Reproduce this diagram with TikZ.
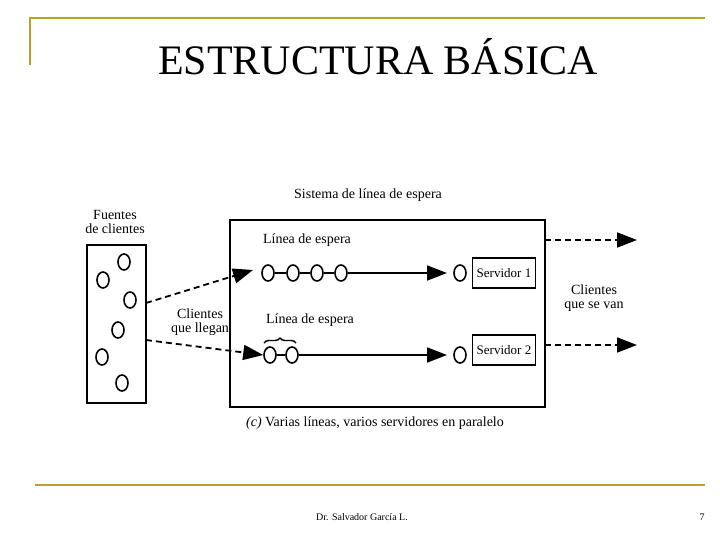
\documentclass[tikz,border=0pt]{standalone}
\usepackage{fontspec}
\setmainfont{Liberation Serif}
\usetikzlibrary{arrows.meta,decorations.pathreplacing,shapes.geometric}
\definecolor{gold}{RGB}{190,160,40}
\begin{document}
\begin{tikzpicture}[x=1pt,y=-1pt,
  cli/.style={draw,line width=1.6pt,ellipse,minimum width=12pt,minimum height=16pt,inner sep=0pt},
  srv/.style={draw,line width=1.6pt,minimum width=63pt,minimum height=30pt,font=\fontsize{13}{13}\selectfont},
  big/.style={-{Triangle[length=20pt,width=15pt]},line width=1.8pt},
  dsh/.style={big,dash pattern=on 6pt off 4pt},
  lab/.style={font=\fontsize{14}{14}\selectfont,align=center}]
\useasboundingbox (0,0) rectangle (720,540);
\draw[gold,line width=1.5pt] (30,65) -- (30,18) -- (705,18);
\draw[gold,line width=1.5pt] (35,485) -- (705,485);
\node[font=\fontsize{42}{44}\selectfont] (title) at (378,57) {ESTRUCTURA BÁSICA};
\node[font=\fontsize{10}{11}\selectfont] (foot) at (362,517) {Dr. Salvador García L.};
\node[font=\fontsize{10}{11}\selectfont] (pg) at (702,517) {7};
\draw[line width=1.8pt] (87,245) rectangle (146,403);
\coordinate (s1) at (146,303); \coordinate (s2) at (146,340);
\foreach \n/\x/\y in {a/124/262,b/103/280,c/130/300,d/118/330,e/102/357,f/122/383}
  \node[cli] (\n) at (\x,\y) {};
\draw[line width=1.8pt] (230,220) rectangle (545,407);
\node[lab] (sys) at (368,195) {Sistema de línea de espera};
\node[lab] (fu) at (115,222) {Fuentes\\de clientes};
\node[lab] (l1) at (307,240) {Línea de espera};
\node[lab] (l2) at (310,320) {Línea de espera};
\node[lab] (cl) at (200,322) {Clientes\\que llegan};
\node[lab] (cv) at (594,298) {Clientes\\que se van};
\node[lab] (cap) at (375,423) {\textit{(c)} Varias líneas, varios servidores en paralelo};
\foreach \n/\x in {q1/268,q2/293,q3/317,q4/341} \node[cli] (\n) at (\x,273) {};
\draw[line width=1.6pt] (q1)--(q2)--(q3)--(q4);
\node[cli] (w1) at (460,273) {};
\node[srv] (S1) at (504,273) {Servidor 1};
\draw[big] (q4) -- (447,273);
\foreach \n/\x in {r1/270,r2/292} \node[cli] (\n) at (\x,355) {};
\draw[line width=1.6pt] (r1)--(r2);
\node[cli] (w2) at (460,355) {};
\node[srv] (S2) at (504,350) {Servidor 2};
\draw[big] (r2) -- (447,355);
\draw[decorate,decoration={brace,amplitude=5pt},line width=1.4pt] (264,343) -- (296,343);
\draw[dsh] (s1) -- (253,270);
\draw[dsh] (s2) -- (r1.west);
\coordinate (o1a) at (545,240); \coordinate (o1b) at (637,240);
\coordinate (o2a) at (545,345); \coordinate (o2b) at (637,345);
\draw[dsh] (o1a) -- (o1b);
\draw[dsh] (o2a) -- (o2b);
\end{tikzpicture}
\end{document}
